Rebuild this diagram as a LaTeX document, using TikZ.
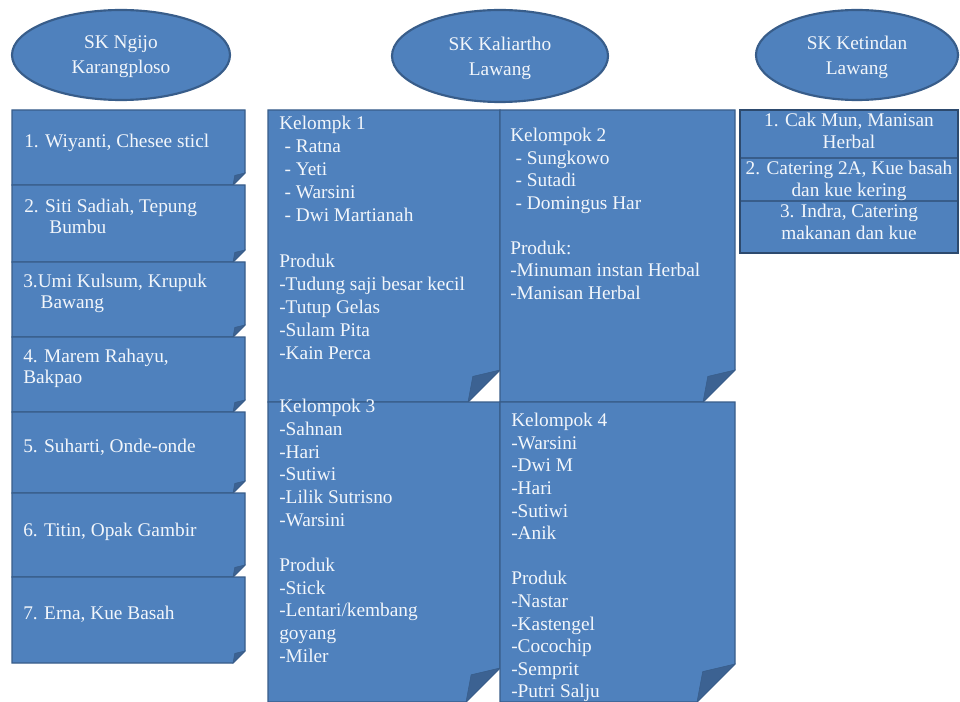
\documentclass[tikz,border=0pt]{standalone}
\usepackage{fontspec}
\setmainfont{Liberation Serif}
\usetikzlibrary{shapes.geometric}

\definecolor{noteblue}{RGB}{79,129,189}
\definecolor{noteline}{RGB}{56,93,138}
\definecolor{notefold}{RGB}{60,98,146}
\definecolor{notetext}{RGB}{242,246,251}

\tikzset{
  note/.style={fill=noteblue, draw=noteline, line width=0.8},
  notefoldtri/.style={fill=notefold, draw=noteline, line width=0.4},
  site/.style={ellipse, fill=noteblue, draw=noteline, line width=1.6, text=notetext,
    align=center, inner sep=0, text depth=0pt, font=\fontsize{14.5}{18.75}\selectfont},
  memo/.style={text=notetext, align=left, inner sep=0, anchor=north west},
}

% sticky note with folded lower right corner: x0, y0, x1, y1, cut
\newcommand{\foldnote}[5]{%
  \path[note] (#1,#2) -- (#3,#2) -- (#3,{#4-#5}) -- ({#3-#5},#4) -- (#1,#4) -- cycle;
  \path[notefoldtri] (#3,{#4-#5}) -- ({#3-#5},#4) -- ({#3-0.85*#5},{#4-0.8*#5}) -- cycle;
}

\begin{document}
\begin{tikzpicture}[x=0.75pt,y=0.75pt,yscale=-1,xscale=1]
        \useasboundingbox (0,0) rectangle (960,702);
        \fill[white] (0,0) rectangle (960,702);
        \clip (0,0) rectangle (960,702);

        %Shape: Ellipse [id:ngijo]
        \node[site, minimum width=218*0.75pt, minimum height=90*0.75pt] (ngijo) at (121,55) {SK Ngijo\\Karangploso};
        %Shape: Ellipse [id:kaliartho]
        \node[site, minimum width=216*0.75pt, minimum height=92*0.75pt] (kaliartho) at (500,56) {SK Kaliartho\\Lawang};
        %Shape: Ellipse [id:ketindan]
        \node[site, minimum width=202*0.75pt, minimum height=90*0.75pt] (ketindan) at (857,55) {SK Ketindan\\Lawang};

        %Shape: Folded Corner -- left column
        \foldnote{12}{110}{245}{185}{12}
        \foldnote{12}{185}{245}{262}{12}
        \foldnote{12}{262}{245}{337}{12}
        \foldnote{12}{337}{245}{412}{12}
        \foldnote{12}{412}{245}{493}{12}
        \foldnote{12}{493}{245}{577}{12}
        \foldnote{12}{577}{245}{663}{12}

        %Shape: Folded Corner -- middle block
        \foldnote{268}{110}{500}{402}{32}
        \foldnote{500}{110}{735}{402}{32}
        \foldnote{268}{402}{500}{702}{34}
        \foldnote{500}{402}{735}{702}{38}

        %Shape: Rectangle -- right column
        \path[note] (740,110) rectangle (958,158);
        \path[note] (740,158) rectangle (958,201);
        \path[note] (740,201) rectangle (958,253);
        \draw[noteline!80!black, line width=1.2] (740,110) rectangle (958,253);

        %Text Node -- left column
        \begin{scope}[every node/.style={memo, font=\fontsize{14.5}{15.75}\selectfont}]
        \node (ngijoa) at (24,134) {1. Wiyanti, Chesee sticl};
        \node (ngijob) at (24,199) {2. Siti Sadiah, Tepung\\\hspace*{1.3em}Bumbu};
        \node (ngijoc) at (23,274) {3.Umi Kulsum, Krupuk\\\hspace*{0.9em}Bawang};
        \node (ngijod) at (23,349) {4. Marem Rahayu,\\Bakpao};
        \node (ngijoe) at (23,439) {5. Suharti, Onde-onde};
        \node (ngijof) at (23,523) {6. Titin, Opak Gambir};
        \node (ngijog) at (23,606) {7. Erna, Kue Basah};
        \end{scope}

        %Text Node -- middle block
        \node[memo, font=\fontsize{14.5}{17.25}\selectfont] (kelompoka) at (279,116)
          {Kelompk 1\\\hspace*{4pt}- Ratna\\\hspace*{4pt}- Yeti\\\hspace*{4pt}- Warsini\\\hspace*{4pt}- Dwi Martianah\\[17.25pt]
           Produk\\-Tudung saji besar kecil\\-Tutup Gelas\\-Sulam Pita\\-Kain Perca};
        \node[memo, font=\fontsize{14.5}{16.9}\selectfont] (kelompokb) at (510,128)
          {Kelompok 2\\\hspace*{4pt}- Sungkowo\\\hspace*{4pt}- Sutadi\\\hspace*{4pt}- Domingus Har\\[16.9pt]
           Produk:\\-Minuman instan Herbal\\-Manisan Herbal};
        \node[memo, font=\fontsize{14.5}{17}\selectfont] (kelompokc) at (279,399)
          {Kelompok 3\\-Sahnan\\-Hari\\-Sutiwi\\-Lilik Sutrisno\\-Warsini\\[17pt]
           Produk\\-Stick\\-Lentari/kembang\\goyang\\-Miler};
        \node[memo, font=\fontsize{14.5}{16.95}\selectfont] (kelompokd) at (511,413)
          {Kelompok 4\\-Warsini\\-Dwi M\\-Hari\\-Sutiwi\\-Anik\\[16.95pt]
           Produk\\-Nastar\\-Kastengel\\-Cocochip\\-Semprit\\-Putri Salju};

        %Text Node -- right column
        \begin{scope}[every node/.style={memo, anchor=north, align=center, font=\fontsize{14.5}{16.1}\selectfont}]
        \node (ketindana) at (849,113) {1. Cak Mun, Manisan\\Herbal};
        \node (ketindanb) at (849,161) {2. Catering 2A, Kue basah\\dan kue kering};
        \node (ketindanc) at (849,204) {3. Indra, Catering\\makanan dan kue};
        \end{scope}

\end{tikzpicture}
\end{document}
